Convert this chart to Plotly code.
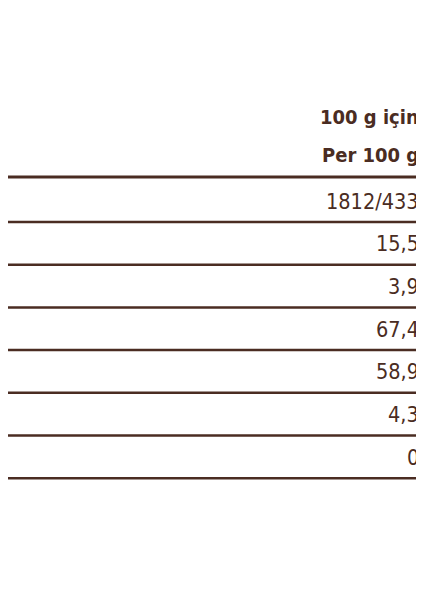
import plotly.graph_objects as go

header_left = ["Enerji ve Besin Öğeleri", "Nutrition Information"]
header_right = ["100 g için", "Per 100 g"]
labels = ["Enerji, Energy, kj/kcal", "Yağ, Fat, g", "Doymuş Yağ, Saturated Fat, g",
          "Karbonhidrat, Carbohydrate, g", "Şeker, Sugar, g", "Protein, g", "Tuz, Salt, g"]
values = ["1812/433", "15,5", "3,9", "67,4", "58,9", "4,3", "0"]

color = "#4a2c22"
font_name = "DejaVu Sans Condensed, sans-serif"

fig = go.Figure()
# the page adds an 8px body margin, so shift the coordinate frame by 8px
fig.update_xaxes(range=[8, 432], visible=False, fixedrange=True)
fig.update_yaxes(range=[608, 8], visible=False, fixedrange=True)

ann = []
shapes = []
for i, (l, r) in enumerate(zip(header_left, header_right)):
    y = 117 + i * 38
    ann.append(dict(x=3, y=y, text="<b>%s</b>" % l, xanchor="left", showarrow=False,
                    font=dict(size=20, color=color, family=font_name)))
    ann.append(dict(x=421, y=y, text="<b>%s</b>" % r, xanchor="right", showarrow=False,
                    font=dict(size=20, color=color, family=font_name)))
shapes.append(dict(type="line", x0=0, x1=432, y0=177, y1=177, line=dict(color=color, width=3)))

for i, (l, v) in enumerate(zip(labels, values)):
    y = 201 + i * 42.7
    ann.append(dict(x=3, y=y, text=l, xanchor="left", showarrow=False,
                    font=dict(size=21.5, color=color, family=font_name)))
    ann.append(dict(x=421, y=y, text=v, xanchor="right", showarrow=False,
                    font=dict(size=21.5, color=color, family=font_name)))
    ly = 222 + i * 42.7
    shapes.append(dict(type="line", x0=0, x1=432, y0=ly, y1=ly, line=dict(color=color, width=2.5)))

fig.update_layout(width=424, height=600, margin=dict(l=0, r=0, t=0, b=0),
                  paper_bgcolor="white", plot_bgcolor="white",
                  annotations=ann, shapes=shapes, showlegend=False)
fig.write_html("out.html")
